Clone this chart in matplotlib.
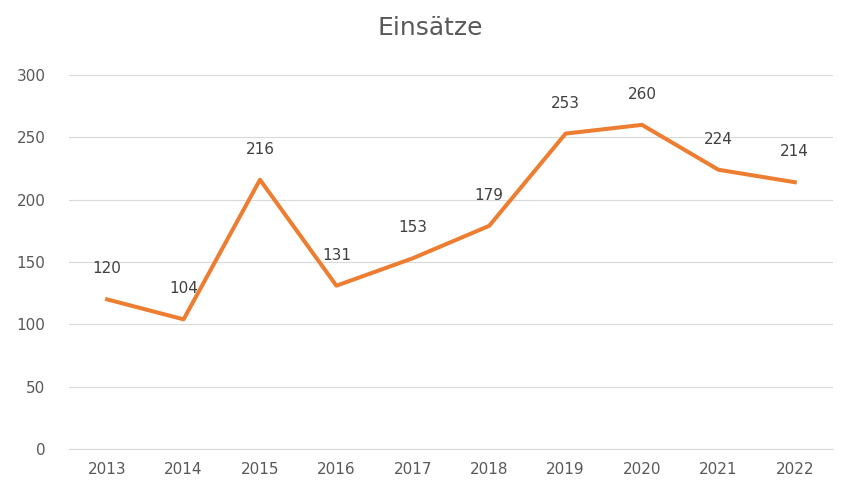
import matplotlib.pyplot as plt

years = ['2013', '2014', '2015', '2016', '2017', '2018', '2019', '2020', '2021', '2022']
einsaetze = [120, 104, 216, 131, 153, 179, 253, 260, 224, 214]
y_ticks = [0, 50, 100, 150, 200, 250, 300]

W, H = 841, 484
fig = plt.figure(figsize=(W / 100, H / 100), dpi=100)
ax = fig.add_axes([69 / W, (H - 449) / H, (833 - 69) / W, (449 - 75) / H])

x = list(range(len(years)))
ax.plot(x, einsaetze, color='#ED7D31', linewidth=2.9, solid_joinstyle='round')

for xi, v in zip(x, einsaetze):
    ax.annotate(str(v), (xi, v), xytext=(0, 22), textcoords='offset points',
                ha='center', va='center', fontsize=11, color='#404040')

ax.set_xlim(-0.5, len(years) - 0.5)
ax.set_ylim(0, 300)
ax.set_xticks(x)
ax.set_xticklabels(years)
ax.set_yticks(y_ticks)
ax.grid(axis='y', color='#D9D9D9', linewidth=0.8)
ax.set_axisbelow(True)
for s in ['top', 'right', 'left']:
    ax.spines[s].set_visible(False)
ax.spines['bottom'].set_color('#D9D9D9')
ax.tick_params(axis='both', length=0, labelsize=11, labelcolor='#595959')
ax.tick_params(axis='y', pad=17)
ax.tick_params(axis='x', pad=9)

fig.text(430 / W, 1 - 28 / H, 'Einsätze', ha='center', va='center',
         fontsize=18, color='#595959')

fig.savefig('out.png', dpi=100)
